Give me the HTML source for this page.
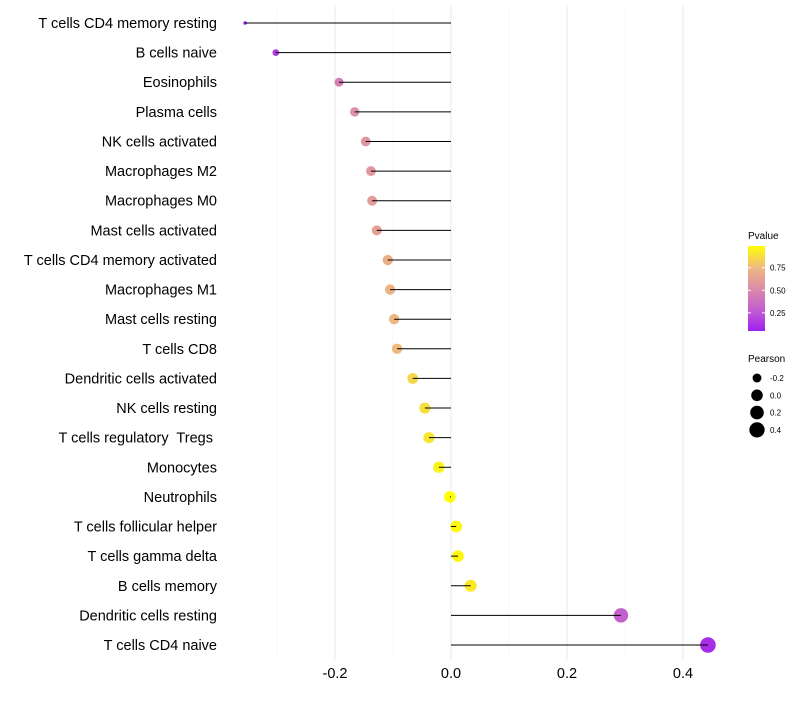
<!DOCTYPE html>
<html><head><meta charset="utf-8"><style>
body{margin:0;background:#fff;font-family:"Liberation Sans",sans-serif}
text{white-space:pre}
</style></head><body>
<svg id="chart" width="800" height="700" xmlns="http://www.w3.org/2000/svg"></svg>
<script>
const categories=["T cells CD4 memory resting","B cells naive","Eosinophils","Plasma cells","NK cells activated","Macrophages M2","Macrophages M0","Mast cells activated","T cells CD4 memory activated","Macrophages M1","Mast cells resting","T cells CD8","Dendritic cells activated","NK cells resting","T cells regulatory  Tregs ","Monocytes","Neutrophils","T cells follicular helper","T cells gamma delta","B cells memory","Dendritic cells resting","T cells CD4 naive"];
const pearson=[-0.355,-0.302,-0.193,-0.166,-0.147,-0.138,-0.136,-0.128,-0.109,-0.105,-0.098,-0.093,-0.066,-0.045,-0.038,-0.021,-0.002,0.009,0.012,0.034,0.293,0.443];
const pvalue=[0.05,0.15,0.45,0.55,0.57,0.58,0.6,0.62,0.7,0.72,0.74,0.76,0.85,0.88,0.9,0.95,0.99,0.97,0.96,0.92,0.3,0.1];
const xTicks=[-0.2,0,0.2,0.4];
const xTickLabels=["-0.2","0.0","0.2","0.4"];
const xMinor=[-0.3,-0.1,0.1,0.3];
const pTicks=[0.25,0.5,0.75];
const sizeLegend=[-0.2,0,0.2,0.4];

const NS="http://www.w3.org/2000/svg";
const svg=document.getElementById('chart');
function el(t,a,p){const e=document.createElementNS(NS,t);for(const k in a)e.setAttribute(k,a[k]);(p||svg).appendChild(e);return e;}
const x=v=>451+v*580;
const y=i=>23+i*(622/21);
const pMin=0.05,pMax=0.99;
const stops=[[0,[160,32,240]],[0.25,[195,94,208]],[0.5,[220,140,168]],[0.75,[238,186,128]],[1,[255,255,0]]];
function color(p){let t=Math.max(0,Math.min(1,(p-pMin)/(pMax-pMin)));for(let k=1;k<stops.length;k++){if(t<=stops[k][0]){const a=stops[k-1],b=stops[k];const f=(t-a[0])/(b[0]-a[0]);const c=a[1].map((v,j)=>Math.round(v+(b[1][j]-v)*f));return `rgb(${c})`;}}return 'rgb(255,255,0)';}
const rMin=Math.min(...pearson),rMax=Math.max(...pearson);
const rad=v=>(1+5*Math.sqrt(Math.max(0,(v-rMin)/(rMax-rMin))))*1.2+0.6;

xMinor.forEach(v=>{const l=el('line',{x1:x(v),x2:x(v),y1:5,y2:660,stroke:'#f4f4f4','stroke-width':0.6});

});
xTicks.forEach((v,i)=>{const l=el('line',{x1:x(v),x2:x(v),y1:5,y2:660,stroke:'#ebebeb','stroke-width':1.1});


const t=el('text',{x:x(v),y:678,'text-anchor':'middle','font-size':14.5,fill:'#000'});t.textContent=xTickLabels[i];

});
categories.forEach((c,i)=>{const t=el('text',{x:217,y:y(i)+5,'text-anchor':'end','font-size':14.5,fill:'#000'});t.textContent=c;


const pt=el('circle',{cx:x(pearson[i]),cy:y(i),r:rad(pearson[i]),fill:color(pvalue[i])});


const ln=el('line',{x1:x(0),x2:x(pearson[i]),y1:y(i),y2:y(i),stroke:'#000','stroke-width':1});

});

const g=el('g',{});
const tt=el('text',{x:748,y:239,'font-size':10,fill:'#000'},g);tt.textContent='Pvalue';
const barTop=246,barBot=331,barPx=(barBot-barTop);
const pToY=p=>barBot-(p-pMin)/(pMax-pMin)*barPx;
const defs=el('defs',{},svg);const lg=el('linearGradient',{id:'pg',x1:0,y1:1,x2:0,y2:0},defs);
stops.forEach(s=>el('stop',{offset:s[0],'stop-color':`rgb(${s[1]})`},lg));
el('rect',{x:748,y:barTop,width:17,height:barPx,fill:'url(#pg)'},g);
pTicks.forEach(p=>{el('line',{x1:748,x2:751,y1:pToY(p),y2:pToY(p),stroke:'#fff'},g);el('line',{x1:762,x2:765,y1:pToY(p),y2:pToY(p),stroke:'#fff'},g);
const t=el('text',{x:770,y:pToY(p)+3,'font-size':8,fill:'#000'},g);t.textContent=p.toFixed(2);});
const g2=el('g',{});
const st=el('text',{x:748,y:362,'font-size':10,fill:'#000'},g2);st.textContent='Pearson';
sizeLegend.forEach((v,i)=>{const cy=378+i*17.3;el('circle',{cx:757,cy:cy,r:rad(v),fill:'#000'},g2);
const t=el('text',{x:770,y:cy+3,'font-size':8,fill:'#000'},g2);t.textContent=v.toFixed(1);});
</script>
</body></html>
